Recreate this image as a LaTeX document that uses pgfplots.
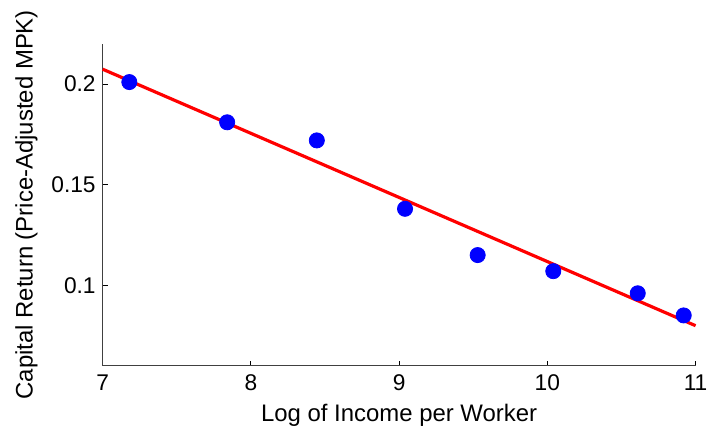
\documentclass[border=0pt]{standalone}
\usepackage{pgfplots}
\pgfplotsset{compat=1.18}
\usepackage{fontspec}
\setmainfont{Liberation Sans}
\begin{document}
\begin{tikzpicture}
\begin{axis}[
  scale only axis,
  width=297.5pt, height=161.5pt,
  xmin=7, xmax=11, ymin=0.06, ymax=0.22,
  axis x line*=bottom, axis y line*=left,
  axis line style={black!75, line width=0.5pt},
  xtick={7,8,9,10,11},
  ytick={0.1,0.15,0.2},
  tick align=inside,
  major tick length=2.5pt,
  tick style={black, line width=0.4pt},
  /pgf/number format/assume math mode=true,
  /pgf/number format/fixed,
  /pgf/number format/precision=2,
  ticklabel style={font=\fontsize{11.4}{13}\selectfont},
  xticklabel style={yshift=-1pt},
  label style={font=\fontsize{12}{14}\selectfont},
  xlabel={Log of Income per Worker},
  ylabel={Capital Return (Price-Adjusted MPK)},
  xlabel style={yshift=0pt},
  ylabel style={yshift=0pt},
  clip=false,
]
\addplot[red, line width=1.6pt] coordinates {(7,0.2074) (11,0.0799)};
\addplot[only marks, mark=*, mark size=3.8pt, color=blue, mark options={fill=blue, draw=blue}] coordinates {
(7.18,0.201)
(7.84,0.181)
(8.445,0.172)
(9.04,0.138)
(9.53,0.115)
(10.04,0.107)
(10.61,0.096)
(10.92,0.085)
};
\end{axis}
\useasboundingbox ([xshift=-51.5pt,yshift=-35.5pt]current axis.south west) rectangle ([xshift=8pt,yshift=22pt]current axis.north east);
\end{tikzpicture}
\end{document}
